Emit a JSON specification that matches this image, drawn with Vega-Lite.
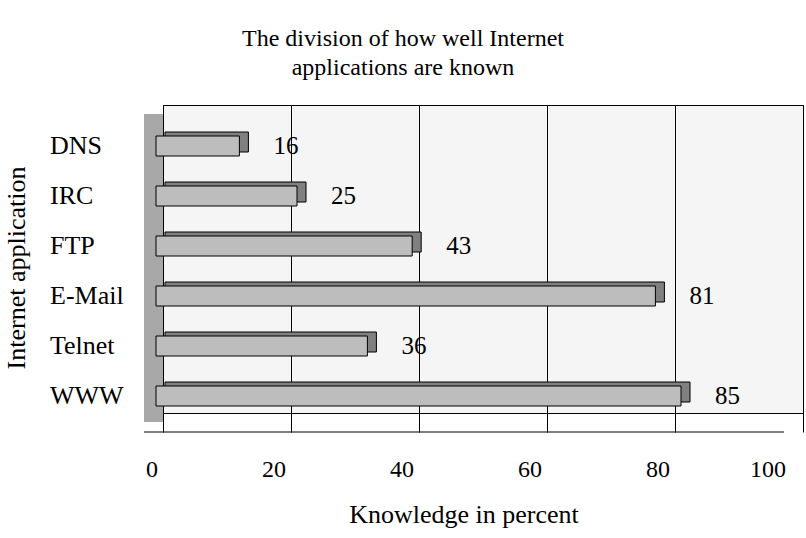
{
  "$schema": "https://vega.github.io/schema/vega-lite/v6.json",
  "width": 640,
  "height": 308,
  "autosize": "none",
  "padding": {"left": 163, "top": 105, "right": 3, "bottom": 125},
  "background": "white",
  "config": {
    "font": "Liberation Serif",
    "view": {"fill": "#f5f5f5", "stroke": "black", "strokeWidth": 1},
    "axis": {"labelFont": "Liberation Serif", "titleFont": "Liberation Serif", "labelFontSize": 24, "titleFontSize": 26, "titleFontWeight": "normal", "labelColor": "black", "titleColor": "black"}
  },
  "title": {
    "text": ["The division of how well Internet", "applications are known"],
    "font": "Liberation Serif",
    "fontSize": 24,
    "fontWeight": "normal",
    "lineHeight": 29,
    "anchor": "middle",
    "dx": -80,
    "offset": 25,
    "color": "black"
  },
  "data": {
    "values": [
      {"app": "DNS", "value": 16},
      {"app": "IRC", "value": 25},
      {"app": "FTP", "value": 43},
      {"app": "E-Mail", "value": 81},
      {"app": "Telnet", "value": 36},
      {"app": "WWW", "value": 85}
    ]
  },
  "encoding": {
    "y": {
      "field": "app",
      "type": "nominal",
      "sort": ["DNS", "IRC", "FTP", "E-Mail", "Telnet", "WWW"],
      "scale": {"paddingInner": 0.6, "paddingOuter": 0.38},
      "axis": {
        "title": "Internet application",
        "orient": "left",
        "ticks": false,
        "offset": 18.5,
        "translate": 9,
        "domain": true,
        "domainWidth": 19,
        "domainColor": "#a8a8a8",
        "labelAlign": "left",
        "labelBaseline": "middle",
        "labelFontSize": 26,
        "labelPadding": 103.5,
        "labelOffset": 3,
        "titlePadding": 20
      }
    }
  },
  "layer": [
    {
      "mark": {"type": "bar", "height": 20, "fill": "#808080", "stroke": "black", "strokeWidth": 1, "xOffset": -17, "x2Offset": 2, "yOffset": 8},
      "encoding": {
        "x": {
          "field": "value",
          "type": "quantitative",
          "scale": {"domain": [0, 100], "nice": false},
          "axis": {
            "orient": "bottom",
            "values": [0, 20, 40, 60, 80, 100],
            "grid": true,
            "gridColor": "black",
            "gridOpacity": 1,
            "gridWidth": 1,
            "ticks": true,
            "tickColor": "black",
            "tickSize": 19,
            "tickWidth": 1,
            "domain": false,
            "labels": false,
            "title": null
          }
        },
        "x2": {"datum": 0}
      }
    },
    {
      "mark": {"type": "bar", "height": 20, "fill": "#bdbdbd", "stroke": "black", "strokeWidth": 1, "xOffset": -26, "x2Offset": -7, "yOffset": 12},
      "encoding": {
        "x": {
          "field": "value",
          "type": "quantitative",
          "axis": {
            "orient": "bottom",
            "values": [0, 20, 40, 60, 80, 100],
            "grid": false,
            "ticks": false,
            "tickSize": 0,
            "domain": true,
            "domainColor": "black",
            "domainWidth": 1,
            "translate": -19,
            "offset": 38,
            "labelPadding": 26,
            "labelOffset": 2,
            "title": "Knowledge in percent",
            "titlePadding": 20
          }
        },
        "x2": {"datum": 0}
      }
    },
    {
      "mark": {"type": "text", "align": "left", "baseline": "middle", "dx": 8, "yOffset": 12, "fontSize": 25, "font": "Liberation Serif", "color": "black"},
      "encoding": {
        "x": {"field": "value", "type": "quantitative", "axis": null},
        "text": {"field": "value", "type": "quantitative"}
      }
    }
  ],
  "resolve": {"axis": {"x": "independent"}}
}
